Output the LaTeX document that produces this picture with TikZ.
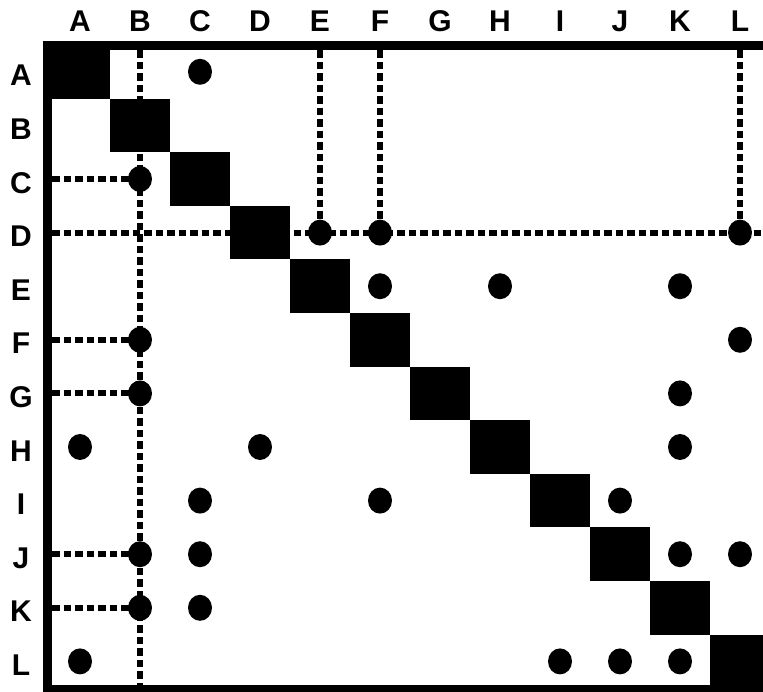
\documentclass[tikz,border=0pt]{standalone}
\usepackage{fontspec}
\setmainfont{Liberation Sans}
\usetikzlibrary{shapes.geometric}

\begin{document}
\begin{tikzpicture}[x=1pt, y=-1pt,
    lbl/.style={font=\fontsize{30}{32}\selectfont\bfseries, inner sep=0pt},
    hit/.style={ellipse, fill, inner sep=0pt, minimum width=24pt, minimum height=26pt},
    dep/.style={line width=6pt, dash pattern=on 7.5pt off 4pt}]
  \useasboundingbox (0,0) rectangle (763,691);
  \clip (0,0) rectangle (763,691);
  % labels, diagonal blocks and anchor points
  \foreach \n [count=\i from 0] in {A,B,C,D,E,F,G,H,I,J,K,L} {
    \coordinate (col-\n) at (80+60*\i, 0);
    \coordinate (row-\n) at (0, 71.8+53.6*\i);
    \coordinate (top-\n) at (80+60*\i, 50);
    \coordinate (bot-\n) at (80+60*\i, 691);
    \coordinate (lft-\n) at (52, 71.8+53.6*\i);
    \coordinate (rgt-\n) at (763, 71.8+53.6*\i);
    \node[lbl] (cl-\n) at (80+60*\i, 21) {\n};
    \node[lbl] (rl-\n) at (21, 75.5+53.6*\i) {\n};
    \fill (50+60*\i, 45+53.6*\i) rectangle ++(60, 53.6);
  }
  % dependencies
  \foreach \r/\c in {A/C, C/B, D/E, D/F, D/L, E/F, E/H, E/K, F/B, F/L, G/B, G/K,
                     H/A, H/D, H/K, I/C, I/F, I/J, J/B, J/C, J/K, J/L, K/B, K/C,
                     L/A, L/I, L/J, L/K}
    \node[hit] (d-\r-\c) at (col-\c |- row-\r) {};
  \draw[dep] (top-B) -- (bot-B);
  \draw[dep] (lft-D) -- (rgt-D);
  \foreach \c in {E,F,L}
    \draw[dep] (top-\c) -- (d-D-\c.center);
  \foreach \r in {C,F,G,J,K}
    \draw[dep] (lft-\r) -- (d-\r-B.center);
  % frame
  \draw[line width=9pt] (772,45.5) -- (47.5,45.5) -- (47.5,689) -- (772,689);
\end{tikzpicture}
\end{document}
